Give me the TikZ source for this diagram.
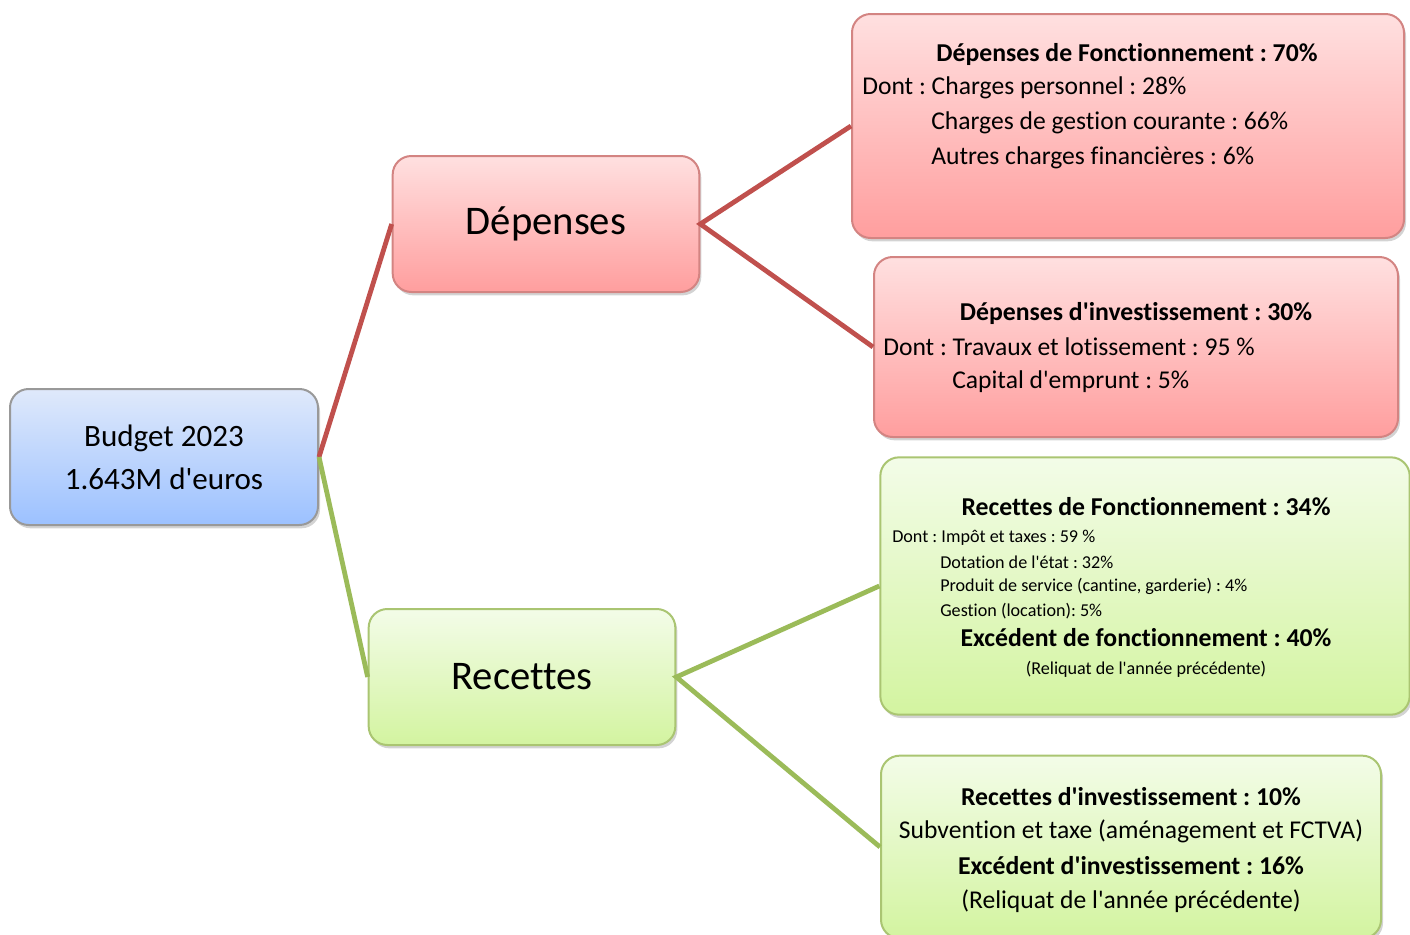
\documentclass[tikz,border=0pt]{standalone}
\usepackage{fontspec}
\setmainfont{Carlito}[Ligatures={NoCommon}]
\usetikzlibrary{shadows}
\frenchspacing
\newcommand{\ap}{\textquotesingle}

\definecolor{redline}{HTML}{C0504D}
\definecolor{greenline}{HTML}{9BBB59}
\definecolor{redtop}{HTML}{FFE0E0}
\definecolor{redbot}{HTML}{FF9E9E}
\definecolor{bluetop}{HTML}{DFE9FB}
\definecolor{bluebot}{HTML}{9CC1FF}
\definecolor{greentop}{HTML}{F3FCE8}
\definecolor{greenbot}{HTML}{D3F4A0}

\tikzset{
  box/.style={rounded corners=14pt, line width=1.5pt,
    drop shadow={shadow xshift=1.5pt, shadow yshift=-2.5pt, opacity=.35}},
  redbox/.style={box, draw=redline!70, top color=redtop, bottom color=redbot},
  bluebox/.style={box, draw=black!40, top color=bluetop, bottom color=bluebot},
  greenbox/.style={box, draw=greenline!85, top color=greentop, bottom color=greenbot},
  redlink/.style={draw=redline, line width=3.6pt},
  greenlink/.style={draw=greenline, line width=3.6pt},
  big/.style={font=\fontsize{30.5}{36}\selectfont},
  mid/.style={font=\fontsize{23.3}{27}\selectfont},
  txt/.style={font=\fontsize{19.2}{23}\selectfont, inner sep=0pt},
  head/.style={font=\bfseries\fontsize{19.3}{23}\selectfont, inner sep=0pt},
  small/.style={font=\fontsize{13.6}{16}\selectfont, inner sep=0pt}
}

\begin{document}
\begin{tikzpicture}[x=0.75pt,y=-0.75pt]
\useasboundingbox (0,0) rectangle (1410,935);
\clip (0,0) rectangle (1410,935);

%% main boxes
\node[bluebox, mid, minimum width=231pt, minimum height=102pt, align=center]
  (budget) at (164,457) {Budget 2023\\[5pt]1.643M d\ap euros};
\node[redbox, big, minimum width=230pt, minimum height=102pt] (dep) at (546,224) {Dépenses};
\node[greenbox, big, minimum width=230pt, minimum height=102pt] (rec) at (522,677) {Recettes};

%% detail boxes
\node[redbox, minimum width=414pt, minimum height=168pt] (depf) at (1128,126) {};
\node[redbox, minimum width=393pt, minimum height=135pt] (depi) at (1136,347) {};
\node[greenbox, minimum width=397pt, minimum height=193pt] (recf) at (1145,586) {};
\node[greenbox, minimum width=375pt, minimum height=137pt] (reci) at (1131,847) {};

%% texts, depenses de fonctionnement
\node[head] (df0) at (1127,54) {Dépenses de Fonctionnement : 70\%};
\node[txt, anchor=west] (df1) at (862,88) {Dont : Charges personnel : 28\%};
\node[txt, anchor=west] (df2) at (931,123) {Charges de gestion courante : 66\%};
\node[txt, anchor=west] (df3) at (931,158) {Autres charges financières : 6\%};

%% texts, depenses d'investissement
\node[head] (di0) at (1136,313) {Dépenses d\ap investissement : 30\%};
\node[txt, anchor=west] (di1) at (883,347) {Dont : Travaux et lotissement : 95 \%};
\node[txt, anchor=west] (di2) at (952,382) {Capital d\ap emprunt : 5\%};

%% texts, recettes de fonctionnement
\node[head] (rf0) at (1146,507) {Recettes de Fonctionnement : 34\%};
\node[small, anchor=west] (rf1) at (892,538) {Dont : Impôt et taxes : 59 \%};
\node[small, anchor=west] (rf2) at (940,562) {Dotation de l\ap état : 32\%};
\node[small, anchor=west] (rf3) at (940,586) {Produit de service (cantine, garderie) : 4\%};
\node[small, anchor=west] (rf4) at (940,611) {Gestion (location): 5\%};
\node[head] (rf5) at (1146,638) {Excédent de fonctionnement : 40\%};
\node[small] (rf6) at (1146,669) {(Reliquat de l\ap année précédente)};

%% texts, recettes d'investissement
\node[head] (ri0) at (1131,797) {Recettes d\ap investissement : 10\%};
\node[txt] (ri1) at (1131,831) {Subvention et taxe (aménagement et FCTVA)};
\node[head] (ri2) at (1131,866) {Excédent d\ap investissement : 16\%};
\node[txt] (ri3) at (1131,901) {(Reliquat de l\ap année précédente)};

%% links
\draw[redlink] (budget.east) -- (dep.west);
\draw[greenlink] (budget.east) -- (rec.west);
\draw[redlink] (depf.west) -- (dep.east) -- (depi.west);
\draw[greenlink] (recf.west) -- (rec.east) -- (reci.west);

\end{tikzpicture}
\end{document}
